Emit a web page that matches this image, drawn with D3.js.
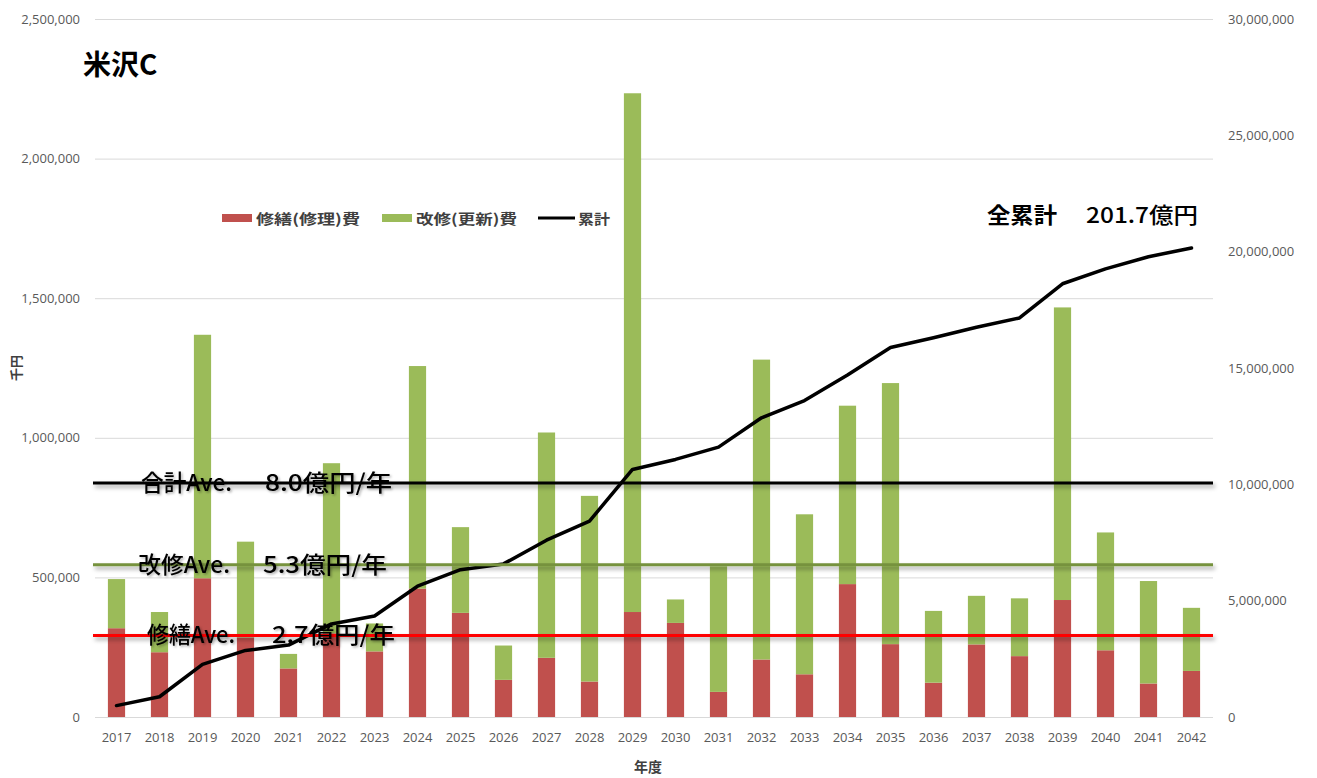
<!DOCTYPE html>
<html><head><meta charset="utf-8">
<script src="https://cdn.jsdelivr.net/npm/d3@7"></script>
<style>
html,body{margin:0;padding:0;background:#fff;}
svg{display:block;}
</style></head>
<body>
<svg id="chart" width="1317" height="778"></svg>
<script>
// ---- data (千円) ----
const years = ["2017","2018","2019","2020","2021","2022","2023","2024","2025","2026","2027","2028","2029","2030","2031","2032","2033","2034","2035","2036","2037","2038","2039","2040","2041","2042"];
const repairCost = [318000,232000,497000,285000,174000,300000,235000,460000,373000,133000,212000,127000,376000,337000,90000,206000,153000,476000,261000,123000,260000,218000,419000,239000,120000,165000];
const renewalCost = [176000,144000,872000,343000,52000,609000,100000,797000,307000,123000,807000,665000,1858000,84000,450000,1074000,573000,639000,935000,257000,174000,207000,1048000,422000,367000,226000];
const cumulative = [490000,870000,2260000,2860000,3090000,4000000,4340000,5620000,6330000,6580000,7600000,8420000,10640000,11070000,11600000,12860000,13600000,14700000,15880000,16300000,16750000,17150000,18620000,19260000,19780000,20160000];
const leftTicks = [0,500000,1000000,1500000,2000000,2500000];
const rightTicks = [0,5000000,10000000,15000000,20000000,25000000,30000000];
const averages = [
  {name:"total", value:838000, label:"合計Ave.", amount:"8.0億円/年"},
  {name:"renewal", value:545000, label:"改修Ave.", amount:"5.3億円/年"},
  {name:"repair", value:292000, label:"修繕Ave.", amount:"2.7億円/年"}
];
const seriesNames = ["修繕(修理)費","改修(更新)費","累計"];
const titleText = "米沢C";
const totalLabel = ["全累計","201.7億円"];

// ---- layout ----
const svg = d3.select("#chart");
const L = 95, R = 1213, T = 19, B = 717;
const colRepair = "#c0504d", colRenew = "#9bbb59";
const avgColors = {total:"#000000", renewal:"#76923c", repair:"#ff0000"};
const tickFont = "'Open Sans','Noto Sans',sans-serif";
const cjk = "'Noto Sans CJK JP','Noto Sans',sans-serif";

const x = d3.scaleBand().domain(years).range([L, R]).paddingInner(0.6).paddingOuter(0.3);
const yL = d3.scaleLinear().domain([0,2500000]).range([B,T]);
const yR = d3.scaleLinear().domain([0,30000000]).range([B,T]);
const cx = d => x(d) + x.bandwidth()/2;

const defs = svg.append("defs");
const f = defs.append("filter").attr("id","sh").attr("filterUnits","userSpaceOnUse")
  .attr("x",0).attr("y",0).attr("width",1317).attr("height",778);
f.append("feDropShadow").attr("dx",2).attr("dy",3).attr("stdDeviation",2).attr("flood-color","#000").attr("flood-opacity",0.35);
const f2 = defs.append("filter").attr("id","tsh").attr("x","-10%").attr("y","-30%").attr("width","120%").attr("height","160%");
f2.append("feDropShadow").attr("dx",1.5).attr("dy",1.5).attr("stdDeviation",1).attr("flood-color","#000").attr("flood-opacity",0.3);

// gridlines + left axis
const gL = svg.append("g").attr("transform",`translate(${L},0)`)
  .call(d3.axisLeft(yL).tickValues(leftTicks).tickFormat(d3.format(",")).tickSize(-(R-L)).tickPadding(15));
gL.select(".domain").remove();
gL.selectAll(".tick line").attr("stroke","#d9d9d9").attr("stroke-width",1);
gL.selectAll(".tick text").attr("fill","#595959").style("font-family",tickFont).style("font-size","13px");

// right axis
const gR = svg.append("g").attr("transform",`translate(${R},0)`)
  .call(d3.axisRight(yR).tickValues(rightTicks).tickFormat(d3.format(",")).tickSize(0).tickPadding(15));
gR.select(".domain").remove();
gR.selectAll(".tick text").attr("fill","#595959").style("font-family",tickFont).style("font-size","13px");

// x axis
const gX = svg.append("g").attr("transform",`translate(0,${B})`)
  .call(d3.axisBottom(x).tickSize(0).tickPadding(16));
gX.select(".domain").remove();
gX.selectAll(".tick text").attr("fill","#595959").style("font-family",tickFont).style("font-size","13px");

// bars
const rows = years.map((yr,i)=>({yr, rep:repairCost[i], ren:renewalCost[i]}));
const gb = svg.append("g");
gb.selectAll("rect.rep").data(rows).join("rect").attr("class","rep")
  .attr("x",d=>x(d.yr)).attr("width",x.bandwidth())
  .attr("y",d=>yL(d.rep)).attr("height",d=>yL(0)-yL(d.rep)).attr("fill",colRepair);
gb.selectAll("rect.ren").data(rows).join("rect").attr("class","ren")
  .attr("x",d=>x(d.yr)).attr("width",x.bandwidth())
  .attr("y",d=>yL(d.rep+d.ren)).attr("height",d=>yL(d.rep)-yL(d.rep+d.ren)).attr("fill",colRenew);

// cumulative line
const line = d3.line().x((d,i)=>cx(years[i])).y(d=>yR(d));
svg.append("path").datum(cumulative).attr("d",line).attr("fill","none")
  .attr("stroke","#000").attr("stroke-width",3.5).attr("stroke-linejoin","round").attr("stroke-linecap","round");

// average lines
const ga = svg.append("g");
averages.forEach(a=>{
  ga.append("line").attr("x1",L-2).attr("x2",R).attr("y1",yL(a.value)).attr("y2",yL(a.value))
    .attr("stroke",avgColors[a.name]).attr("stroke-width",3).attr("filter","url(#sh)");
});
const labelPos = {total:{x1:141,w1:91,x2:265,w2:127}, renewal:{x1:138,w1:92,x2:263,w2:124}, repair:{x1:147,w1:88,x2:272,w2:123}};
averages.forEach(a=>{
  const p = labelPos[a.name], yy = yL(a.value) + 8;
  ga.append("text").attr("x",p.x1).attr("y",yy).text(a.label)
    .attr("textLength",p.w1).attr("lengthAdjust","spacingAndGlyphs")
    .style("font-family",cjk).style("font-size","23px").style("font-weight",500).attr("fill","#000").attr("filter","url(#tsh)");
  ga.append("text").attr("x",p.x2).attr("y",yy).text(a.amount)
    .attr("textLength",p.w2).attr("lengthAdjust","spacingAndGlyphs")
    .style("font-family",cjk).style("font-size","23px").style("font-weight",500).attr("fill","#000").attr("filter","url(#tsh)");
});

// title
svg.append("text").attr("x",83).attr("y",75).text(titleText)
  .style("font-family",cjk).style("font-size","28px").style("font-weight",700).attr("fill","#000");

// total label
svg.append("text").attr("x",987).attr("y",223).text(totalLabel[0])
  .attr("textLength",70).attr("lengthAdjust","spacingAndGlyphs")
  .style("font-family",cjk).style("font-size","22px").style("font-weight",700).attr("fill","#000");
svg.append("text").attr("x",1086).attr("y",223).text(totalLabel[1])
  .attr("textLength",112).attr("lengthAdjust","spacingAndGlyphs")
  .style("font-family",cjk).style("font-size","22px").style("font-weight",500).attr("fill","#000");

// legend
const lg = svg.append("g");
const legendItems = [
  {x:222, type:"rect", color:colRepair, tx:256, tw:104},
  {x:382, type:"rect", color:colRenew, tx:416, tw:101},
  {x:538, type:"line", color:"#000", tx:578, tw:32}
];
legendItems.forEach((it,i)=>{
  if(it.type==="rect") lg.append("rect").attr("x",it.x).attr("y",214).attr("width",30).attr("height",8).attr("fill",it.color);
  else lg.append("line").attr("x1",it.x).attr("x2",it.x+37).attr("y1",218).attr("y2",218).attr("stroke",it.color).attr("stroke-width",3);
  lg.append("text").attr("x",it.tx).attr("y",223.5).text(seriesNames[i])
    .attr("textLength",it.tw).attr("lengthAdjust","spacingAndGlyphs")
    .style("font-family",cjk).style("font-size","14px").style("font-weight",700).attr("fill","#404040");
});

// axis titles
svg.append("text").attr("x",648).attr("y",772).attr("text-anchor","middle").text("年度")
  .style("font-family",cjk).style("font-size","14px").style("font-weight",700).attr("fill","#404040");
svg.append("text").attr("transform","translate(21,368) rotate(-90)").attr("text-anchor","middle").text("千円")
  .style("font-family",cjk).style("font-size","13px").style("font-weight",700).attr("fill","#404040");
</script>
</body></html>
